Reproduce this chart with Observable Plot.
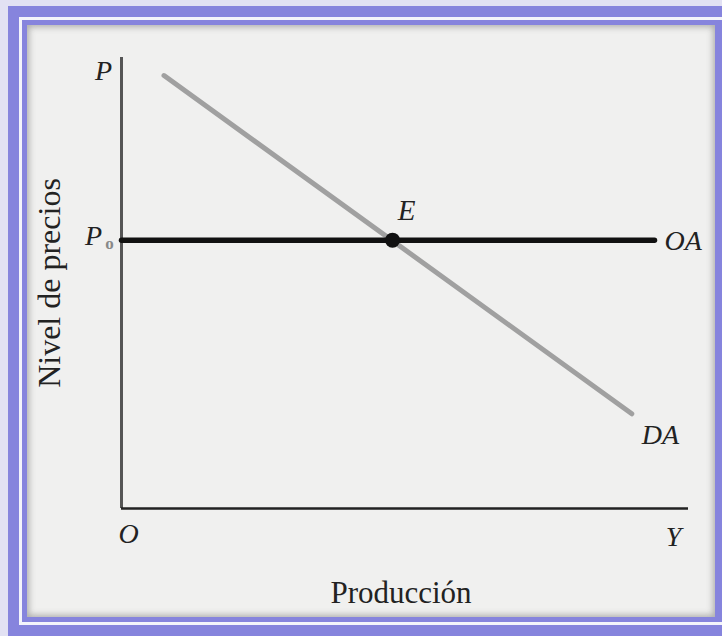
<!DOCTYPE html>
<html>
<head>
<meta charset="utf-8">
<script src="https://cdn.jsdelivr.net/npm/d3@7"></script>
<script src="https://cdn.jsdelivr.net/npm/@observablehq/plot@0.6"></script>
<style>
  html, body { margin: 0; padding: 0; }
  body { width: 722px; height: 636px; position: relative; overflow: hidden; background: #e2e1f3; }
  #frame { position: absolute; left: 8px; top: 6px; width: 714px; height: 630px; background: #8684dd; }
  #white { position: absolute; left: 19px; top: 17px; width: 710px; height: 608px; border: 3px solid #f4f4fb; box-sizing: border-box; }
  #page { position: absolute; left: 27px; top: 25px; width: 688px; height: 592px; background: #f0f0ef;
          box-shadow: inset 0 0 6px 2px rgba(90,90,90,0.45); }
  #chart { position: absolute; left: 0; top: 0; }
</style>
</head>
<body>
<div id="frame"></div>
<div id="white"></div>
<div id="page"></div>
<div id="chart"></div>
<script>
// Curves (data units: 0–100 on both axes)
const curveNames = ["OA", "DA"];
const oaX = [0, 94];
const oaY = [59.5, 59.5];
const daX = [7.5, 90];
const daY = [96, 21];
// Equilibrium point
const eqX = [47.8];
const eqY = [59.5];
const eqLabel = ["E"];
// Axis texts
const yAxisTop = "P";
const priceLevel = "P";
const priceSub = "o";
const originLabel = "O";
const xAxisEnd = "Y";
const xTitle = "Producción";
const yTitle = "Nivel de precios";

const oa = oaX.map((x, i) => ({x, y: oaY[i], name: curveNames[0]}));
const da = daX.map((x, i) => ({x, y: daY[i], name: curveNames[1]}));
const eq = eqX.map((x, i) => ({x, y: eqY[i], label: eqLabel[i]}));

const serif = "'Liberation Serif', 'DejaVu Serif', serif";

const chart = Plot.plot({
  width: 722,
  height: 636,
  marginLeft: 121,
  marginRight: 34,
  marginTop: 57,
  marginBottom: 128,
  x: {domain: [0, 100], axis: null},
  y: {domain: [0, 100], axis: null},
  style: {background: "transparent", fontFamily: serif},
  marks: [
    // axes
    Plot.ruleX([0], {y1: 0, y2: 100, stroke: "#555", strokeWidth: 3}),
    Plot.ruleY([0], {x1: 0, x2: 100, stroke: "#222", strokeWidth: 2.5}),
    // DA curve
    Plot.line(da, {x: "x", y: "y", stroke: "#a0a0a0", strokeWidth: 5}),
    // OA curve
    Plot.line(oa, {x: "x", y: "y", stroke: "#111", strokeWidth: 5.5}),
    // equilibrium
    Plot.dot(eq, {x: "x", y: "y", r: 7.5, fill: "#111", stroke: "none"}),
    Plot.text(eq, {x: "x", y: "y", text: "label", dx: 14, dy: -29, fontSize: 29, fontStyle: "italic", fill: "#222"}),
    // curve labels
    Plot.text([oa[1]], {x: "x", y: "y", text: "name", dx: 10, dy: 1, textAnchor: "start", fontSize: 28, fontStyle: "italic", fill: "#222"}),
    Plot.text([da[1]], {x: "x", y: "y", text: "name", dx: 10, dy: 21, textAnchor: "start", fontSize: 28, fontStyle: "italic", fill: "#222"}),
    // axis letters
    Plot.text([yAxisTop], {x: 0, y: 97, text: d => d, dx: -18, fontSize: 28, fontStyle: "italic", fill: "#222"}),
    Plot.text([priceLevel], {x: 0, y: oaY[0], text: d => d, dx: -28, dy: -4, fontSize: 28, fontStyle: "italic", fill: "#222"}),
    Plot.text([priceSub], {x: 0, y: oaY[0], text: d => d, dx: -12, dy: 3, fontSize: 17, fontWeight: "bold", fill: "#888"}),
    Plot.text([originLabel], {x: 0, y: 0, text: d => d, dx: 7, dy: 26, fontSize: 28, fontStyle: "italic", fill: "#222"}),
    Plot.text([xAxisEnd], {x: 100, y: 0, text: d => d, dx: -15, dy: 29, fontSize: 28, fontStyle: "italic", fill: "#222"}),
    // titles
    Plot.text([xTitle], {frameAnchor: "bottom", text: d => d, dx: -4, dy: 94, fontSize: 31, fill: "#222"}),
    Plot.text([yTitle], {frameAnchor: "left", textAnchor: "middle", text: d => d, dx: -72, rotate: -90, fontSize: 32, fill: "#222"})
  ]
});
document.getElementById("chart").appendChild(chart);
</script>
</body>
</html>
